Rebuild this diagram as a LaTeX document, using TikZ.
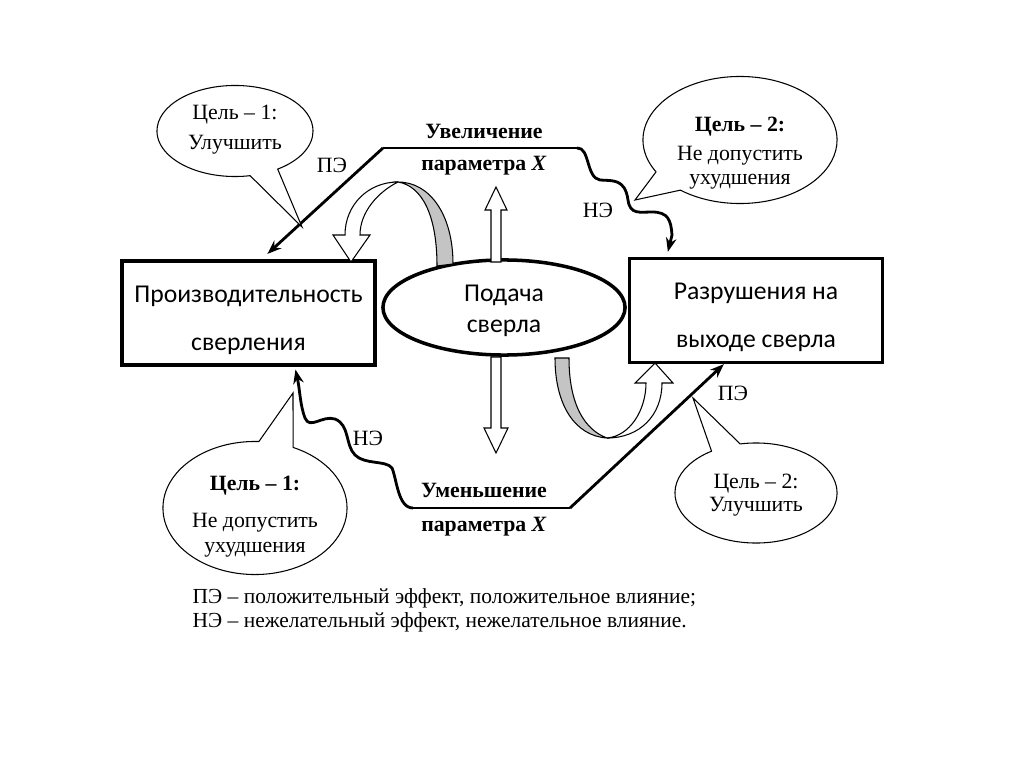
\documentclass[tikz,border=0pt]{standalone}
\usepackage{fontspec}
\setmainfont{Liberation Serif}
\newfontfamily\calibri{Carlito}
\usetikzlibrary{positioning, calc, shapes.geometric, shapes.callouts, arrows.meta}
\definecolor{TwistGrey}{HTML}{C4C4C4}
\tikzset{
  box/.style={draw, line width=0.9pt, minimum width=2.53cm, minimum height=1.04cm,
    align=center, inner sep=0pt, font=\calibri\fontsize{7.3}{8.8}\selectfont},
  bubble/.style={ellipse callout, draw, line width=0.3pt, fill=white,
    inner sep=0pt, callout pointer arc=22},
  goaltext/.style={align=center, inner sep=0pt},
  effline/.style={line width=0.8pt, -{Stealth[length=4pt,width=3pt]}},
  thinline/.style={line width=0.45pt},
  hollow/.style={draw, fill=white, line width=0.3pt},
  twist/.style={draw, fill=TwistGrey, line width=0.3pt},
  lbl/.style={font=\fontsize{6.2}{7.6}\selectfont},
  blbl/.style={font=\bfseries\fontsize{6.2}{7.6}\selectfont}
}
\begin{document}
\begin{tikzpicture}[x=0.01cm, y=-0.01cm]
  \useasboundingbox[fill=white] (0,0) rectangle (1024,767);
  %% Main blocks
  \node[box] (prod) at (248.5,313) {\rule{0pt}{8.8pt}Производительность\\[4.8pt]сверления};
  \node[box] (rez) at (756,310.5) {\rule{0pt}{8.8pt}Разрушения на\\[4.8pt]выходе сверла};
  \node[draw, ellipse, line width=1pt, minimum width=2.42cm, minimum height=0.95cm,
    inner sep=0pt, align=center, font=\calibri\fontsize{7.3}{8.7}\selectfont]
    (feed) at (504,307.5) {\rule{0pt}{6.5pt}Подача\\сверла};
  %% Straight hollow arrows
  \filldraw[hollow] (491,262) -- (491,210) -- (485,210) -- (496,187) -- (507,210)
                    -- (501,210) -- (501,262) -- cycle;
  \filldraw[hollow] (491,357) -- (491,428) -- (484,428) -- (496,453) -- (508,428)
                    -- (501,428) -- (501,357) -- cycle;
  %% Curved hollow arrows
  \filldraw[twist] (437,266) .. controls (437,215) and (422,186) .. (398,182)
                   .. controls (430,182) and (453,215) .. (453,264) -- cycle;
  \filldraw[hollow] (398,182) .. controls (368,182) and (345,205) .. (345,235)
                    -- (333,235) -- (351,262) -- (370,235) -- (360,235)
                    .. controls (360,212) and (378,192) .. (398,182);
  \filldraw[twist] (555,358) .. controls (555,405) and (575,436) .. (607,438)
                   .. controls (585,430) and (569,405) .. (569,358) -- cycle;
  \filldraw[hollow] (607,438) .. controls (640,438) and (662,415) .. (662,383)
                    -- (673,383) -- (655,363) -- (635,383) -- (646,383)
                    .. controls (646,410) and (630,436) .. (607,438);
  %% Increase of X
  \coordinate (upL) at (383,148);
  \coordinate (upR) at (577,148);
  \draw[thinline] (upL) -- (upR);
  \draw[effline, shorten >=2.3pt] (upL) -- ([xshift=1.41cm]prod.north west);
  \draw[effline] (upR) .. controls (590,147) and (586,178) .. (600,180)
                 .. controls (612,181) and (625,178) .. (628,200)
                 .. controls (630,215) and (640,212) .. (652,212)
                 .. controls (668,212) and (671,220) .. (672,235)
                 -- ([xshift=0.40cm, yshift=0.05cm]rez.north west);
  \node[blbl] (incA) at (484,131) {Увеличение};
  \node[blbl] (incB) at (484,166) {параметра \textit{X}};
  \node[lbl] (peA) at (332,165) {ПЭ};
  \node[lbl] (neA) at (598,210) {НЭ};
  %% Decrease of X
  \coordinate (dnL) at (413,508);
  \coordinate (dnR) at (570,508);
  \draw[thinline] (dnL) -- (dnR);
  \draw[effline] (dnR) -- ([xshift=0.96cm]rez.south west);
  \draw[effline] (dnL) .. controls (398,508) and (397,480) .. (392,468)
                 .. controls (386,460) and (365,465) .. (355,455)
                 .. controls (345,445) and (350,425) .. (335,419)
                 .. controls (322,415) and (310,430) .. (305,418)
                 .. controls (300,405) and (300,390) .. ([xshift=1.75cm, yshift=-0.03cm]prod.south west);
  \node[blbl] (decA) at (484,490) {Уменьшение};
  \node[blbl] (decB) at (484,527) {параметра \textit{X}};
  \node[lbl] (neB) at (368,438) {НЭ};
  \node[lbl] (peB) at (733,393) {ПЭ};
  %% Goals
  \node[bubble, minimum width=1.56cm, minimum height=0.91cm,
    callout absolute pointer={(302,227)}] (goalA) at (235,131) {};
  \node[goaltext, font=\fontsize{6.2}{8.6}\selectfont] (goalAtxt) at (235,130)
    {Цель – 1:\\Улучшить};
  \node[bubble, minimum width=1.94cm, minimum height=1.27cm,
    callout absolute pointer={(635,200)}] (goalB) at (740,140) {};
  \node[goaltext, font=\fontsize{6.2}{6.6}\selectfont] (goalBtxt) at (740,153)
    {\textbf{Цель – 2:}\\[1.7pt]Не допустить\\ухудшения};
  \node[bubble, minimum width=1.84cm, minimum height=1.33cm,
    callout absolute pointer={(293,393)}] (goalC) at (255,508) {};
  \node[goaltext, font=\fontsize{6.2}{7.1}\selectfont] (goalCtxt) at (255,517)
    {\textbf{Цель – 1:}\\[3.4pt]Не допустить\\ухудшения};
  \node[bubble, minimum width=1.62cm, minimum height=1.0cm,
    callout absolute pointer={(693,398)}] (goalD) at (756,493) {};
  \node[goaltext, font=\fontsize{6.2}{6.4}\selectfont] (goalDtxt) at (756,495)
    {Цель – 2:\\Улучшить};
  %% Legend
  \node[lbl, anchor=base west, inner sep=0pt, font=\fontsize{6.1}{7.5}\selectfont] (legA) at (192,603)
    {ПЭ – положительный эффект, положительное влияние;};
  \node[lbl, anchor=base west, inner sep=0pt, font=\fontsize{6.1}{7.5}\selectfont] (legB) at (192,627)
    {НЭ – нежелательный эффект, нежелательное влияние.};
\end{tikzpicture}
\end{document}
